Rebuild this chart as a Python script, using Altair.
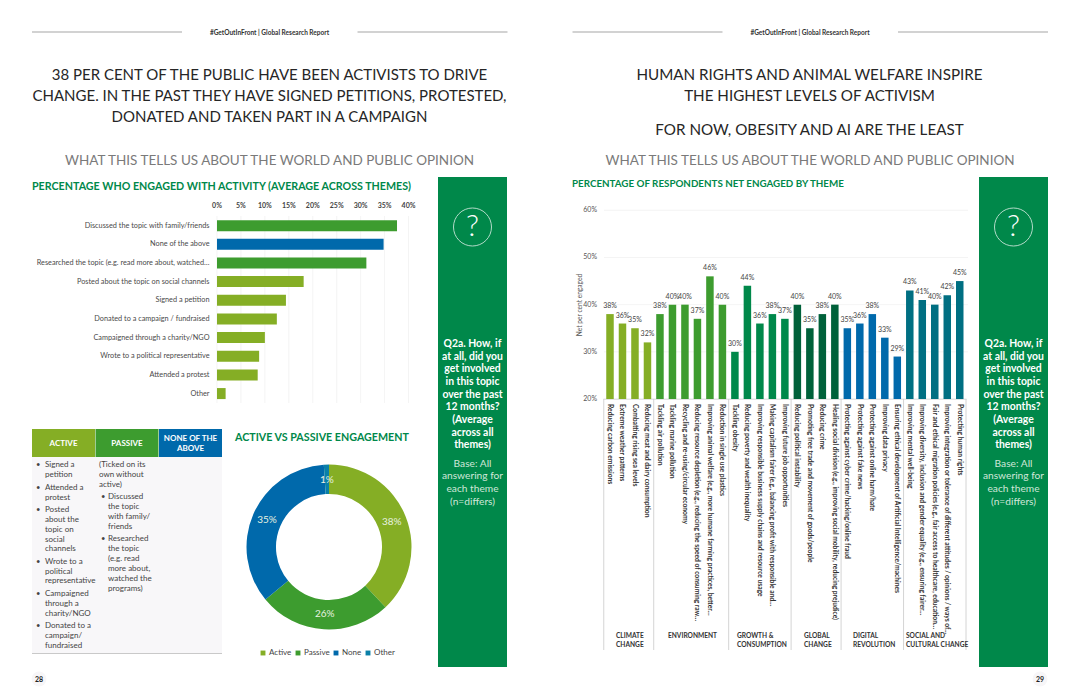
import altair as alt
import pandas as pd

FONT = "Lato"
ACTIVE = "#85AE25"
PASSIVE = "#3D9C2F"
NONE_C = "#0069AB"
OTHER_C = "#0A80A8"
GREEN = "#00884A"

# left bar chart
activities = ["Discussed the topic with family/friends", "None of the above",
              "Researched the topic (e.g. read more about, watched…",
              "Posted about the topic on social channels", "Signed a petition",
              "Donated to a campaign / fundraised", "Campaigned through a charity/NGO",
              "Wrote to a political representative", "Attended a protest", "Other"]
activity_values = [37.6, 34.8, 31.2, 18.1, 14.4, 12.5, 10.0, 8.8, 8.5, 1.8]
activity_kinds = ["Passive", "None", "Passive", "Active", "Active", "Active", "Active", "Active", "Active", "Active"]
pct_ticks = [0, 5, 10, 15, 20, 25, 30, 35, 40]

# donut
donut_labels = ["Active", "Passive", "None", "Other"]
donut_values = [38, 26, 35, 1]
donut_colors = [ACTIVE, PASSIVE, NONE_C, OTHER_C]

# right bar chart
theme_names = [
    "Reducing carbon emissions", "Extreme weather patterns", "Combatting rising sea levels",
    "Reducing meat and dairy consumption",
    "Tackling air pollution", "Tackling marine pollution", "Recycling and re-using/circular economy",
    "Reducing resource depletion (e.g., reducing the speed of consuming raw…",
    "Improving animal welfare (e.g., more humane farming practices, better…",
    "Reduction in single use plastics",
    "Tackling obesity", "Reducing poverty and wealth inequality",
    "Improving responsible business supply chains and resource usage",
    "Making capitalism fairer (e.g., balancing profit with responsible and…",
    "Improving future job opportunities",
    "Reducing political instability", "Promoting free trade and movement of goods/people", "Reducing crime",
    "Healing social division (e.g., improving social mobility, reducing prejudice)",
    "Protecting against cyber crime/hacking/online fraud", "Protecting against fake news",
    "Protecting against online harm/hate", "Improving data privacy",
    "Ensuring ethical development of Artificial Intelligence/machines",
    "Improving mental well-being", "Improving diversity, inclusion and gender equality (e.g., ensuring fairer…",
    "Fair and ethical migration policies (e.g., fair access to healthcare, education…",
    "Improving integration or tolerance of different attitudes / opinions / ways of…",
    "Protecting human rights"]
theme_values = [38, 36, 35, 32, 38, 40, 40, 37, 46, 40, 30, 44, 36, 38, 37, 40, 35, 38, 40,
                35, 36, 38, 33, 29, 43, 41, 40, 42, 45]
group_sizes = [4, 6, 5, 4, 5, 5]
group_colors = [ACTIVE, PASSIVE, "#00884A", "#00613A", NONE_C, "#006F82"]
y_ticks = [20, 30, 40, 50, 60]

side_q = ["Q2a. How, if", "at all, did you", "get involved", "in this topic", "over the past",
          "12 months?", "(Average", "across all", "themes)"]
side_b = ["Base: All", "answering for", "each theme", "(n=differs)"]
active_col = [("•", "Signed a", 465), ("", "petition", 475), ("•", "Attended a", 487.7), ("", "protest", 497.5),
              ("•", "Posted", 510), ("", "about the", 519.5), ("", "topic on", 529.5), ("", "social", 539.5),
              ("", "channels", 549), ("•", "Wrote to a", 561.7), ("", "political", 571.7), ("", "representative", 581),
              ("•", "Campaigned", 593.7), ("", "through a", 603.7), ("", "charity/NGO", 613.7),
              ("•", "Donated to a", 626), ("", "campaign/", 636), ("", "fundraised", 645.7)]
passive_col = [("•", "Discussed", 497.3), ("", "the topic", 507), ("", "with family/", 516.7), ("", "friends", 526.7),
               ("•", "Researched", 539), ("", "the topic", 549), ("", "(e.g. read", 559), ("", "more about,", 569),
               ("", "watched the", 578.7), ("", "programs)", 588.7)]

ONE = alt.Data(values=[{"a": 1}])
layers = []


def V(n):
    return alt.value(n - 8)


def T(s, x, y, size, color="#444444", bold=False, align="left", angle=None, weight=None):
    kw = dict(align=align, baseline="middle", fontSize=size, font=FONT,
              fontWeight=weight if weight else ("bold" if bold else "normal"))
    if angle is not None:
        kw["angle"] = angle
    layers.append(alt.Chart(ONE).mark_text(**kw).encode(x=V(x), y=V(y), text=alt.value(s), color=alt.value(color)))


def R(x0, x1, y0, y1, color):
    layers.append(alt.Chart(ONE).mark_rect().encode(x=V(x0), x2=V(x1), y=V(y0), y2=V(y1), color=alt.value(color)))


# page headers
for off in (0, 540.5):
    R(32 + off, 182 + off, 31.6, 32.4, "#a6a6a6")
    R(357.5 + off, 507.5 + off, 31.6, 32.4, "#a6a6a6")
    T("#GetOutInFront | Global Research Report", 269.5 + off, 32.5, 6.5, "#333333", True, "center")
    T("WHAT THIS TELLS US ABOUT THE WORLD AND PUBLIC OPINION", 269.5 + off, 161, 13.5, "#7a7a7a", False, "center")

for s, y in zip(["38 PER CENT OF THE PUBLIC HAVE BEEN ACTIVISTS TO DRIVE",
                 "CHANGE. IN THE PAST THEY HAVE SIGNED PETITIONS, PROTESTED,",
                 "DONATED AND TAKEN PART IN A CAMPAIGN"], [75, 96, 117.3]):
    T(s, 269.5, y, 15.0, "#262626", False, "center")
for s, y in zip(["HUMAN RIGHTS AND ANIMAL WELFARE INSPIRE", "THE HIGHEST LEVELS OF ACTIVISM",
                 "FOR NOW, OBESITY AND AI ARE THE LEAST"], [75, 96, 130]):
    T(s, 809.5, y, 15.2, "#262626", False, "center")

T("PERCENTAGE WHO ENGAGED WITH ACTIVITY (AVERAGE ACROSS THEMES)", 32, 186.5, 10.7, GREEN, True)
T("PERCENTAGE OF RESPONDENTS NET ENGAGED BY THEME", 572, 184, 9.8, GREEN, True)
T("ACTIVE VS PASSIVE ENGAGEMENT", 235, 437.5, 10.7, GREEN, True)

# sidebars
for x0, cx in ((438, 472.5), (979, 1013.5)):
    R(x0, x0 + 69, 177, 667, GREEN)
    layers.append(alt.Chart(ONE).mark_point(filled=False, size=1444, strokeWidth=1).encode(
        x=V(cx), y=V(227), color=alt.value("white")))
    T("?", cx, 227, 30, "white", False, "center", weight=300)
    for i, s in enumerate(side_q):
        T(s, cx, 344 + i * 12.65, 10.4, "white", True, "center")
    for i, s in enumerate(side_b):
        T(s, cx, 463.5 + i * 12.7, 10.2, "#cfe7d9", False, "center")

# page numbers
for cx, s in ((39, "28"), (1040, "29")):
    layers.append(alt.Chart(ONE).mark_point(filled=True, size=220, opacity=1).encode(
        x=V(cx), y=V(679), color=alt.value("#f7f6f8")))
    T(s, cx, 679.5, 7, "#222222", True, "center")

# left bar chart
xs_left = alt.Scale(domain=[0, 40], range=[217 - 8, 408.5 - 8], nice=False, zero=True)
ys_left = alt.Scale(domain=activities, range=[216.3 - 8, 402.9 - 8], paddingInner=0.41, paddingOuter=0.205)
grid_df = pd.DataFrame({"p": pct_ticks, "lab": [f"{p}%" for p in pct_ticks]})
layers.append(alt.Chart(grid_df).mark_rule(color="#efefef", strokeWidth=0.7).encode(
    x=alt.X("p:Q", scale=xs_left, axis=None), y=V(216), y2=V(403)))
layers.append(alt.Chart(grid_df).mark_text(fontSize=7, fontWeight="bold", font=FONT, color="#444444", baseline="middle").encode(
    x=alt.X("p:Q", scale=xs_left, axis=None), y=V(205.6), text="lab:N"))
left_df = pd.DataFrame({"a": activities, "v": activity_values, "k": activity_kinds})
layers.append(alt.Chart(left_df).mark_bar().encode(
    x=alt.X("v:Q", scale=xs_left, axis=None),
    y=alt.Y("a:N", scale=ys_left, axis=None),
    color=alt.Color("k:N", scale=alt.Scale(domain=["Active", "Passive", "None"], range=[ACTIVE, PASSIVE, NONE_C]), legend=None)))
layers.append(alt.Chart(left_df).mark_text(align="right", baseline="middle", fontSize=7.3, font=FONT, color="#4a4a4a").encode(
    x=V(209.5), y=alt.Y("a:N", scale=ys_left, axis=None), text="a:N"))

# table
R(32, 95, 429, 457, ACTIVE)
R(95.5, 158.5, 429, 457, PASSIVE)
R(159, 222, 429, 457, NONE_C)
R(32, 222, 457, 653, "#f8f7f9")
R(32, 222, 653, 654, "#c9c9c9")
T("ACTIVE", 63.5, 443.5, 8, "#ffffff", True, "center")
T("PASSIVE", 127, 443.5, 8, "#ffffff", True, "center")
T("NONE OF THE", 190.5, 438.5, 8, "#ffffff", True, "center")
T("ABOVE", 190.5, 449, 8, "#ffffff", True, "center")
for bullet, s, y in active_col:
    if bullet:
        T(bullet, 36, y, 7.6, "#444444")
    T(s, 45, y, 8, "#444444")
for s, y in zip(["(Ticked on its", "own without", "active)"], [465, 475, 484.7]):
    T(s, 99, y, 8, "#444444")
for bullet, s, y in passive_col:
    if bullet:
        T(bullet, 101, y, 7.6, "#444444")
    T(s, 108, y, 8, "#444444")

# donut
donut_df = pd.DataFrame({"n": donut_labels, "v": donut_values, "o": list(range(4)),
                         "lab": [f"{v}%" for v in donut_values]})
layers.append(alt.Chart(donut_df).mark_arc(outerRadius=82.5, innerRadius=53).encode(
    theta=alt.Theta("v:Q", stack=True),
    order=alt.Order("o:Q"),
    x=V(329), y=V(547),
    color=alt.Color("n:N", sort=donut_labels, scale=alt.Scale(domain=donut_labels, range=donut_colors),
                    legend=alt.Legend(orient="none", legendX=251, legendY=641, direction="horizontal", title=None,
                                      symbolType="square", symbolSize=24, symbolStrokeWidth=0, labelFontSize=8,
                                      labelFont=FONT, labelColor="#444444", columnPadding=2, labelOffset=2,
                                      values=donut_labels))))
layers.append(alt.Chart(donut_df).mark_text(radius=67.5, fontSize=10, font=FONT, color="#e8f2e0", baseline="middle").encode(
    theta=alt.Theta("v:Q", stack=True),
    order=alt.Order("o:Q"),
    x=V(329), y=V(547), text="lab:N"))

# right chart
themes_group = [g for g, n in enumerate(group_sizes) for _ in range(n)]
theme_df = pd.DataFrame({"t": theme_names, "v": theme_values, "g": themes_group,
                         "lab": [f"{v}%" for v in theme_values]})
xs_r = alt.Scale(domain=theme_names, range=[603.75 - 8, 966 - 8], paddingInner=0.4, paddingOuter=0.2)
ys_r = alt.Scale(domain=[20, 60], range=[399 - 8, 210.3 - 8], nice=False, zero=False)
gy_df = pd.DataFrame({"p": y_ticks, "lab": [f"{p}%" for p in y_ticks]})
layers.append(alt.Chart(gy_df[gy_df.p > 20]).mark_rule(color="#efefef", strokeWidth=0.7).encode(
    y=alt.Y("p:Q", scale=ys_r, axis=None), x=V(604), x2=V(968)))
layers.append(alt.Chart(gy_df).mark_text(align="right", baseline="middle", fontSize=7, font=FONT, color="#555555").encode(
    y=alt.Y("p:Q", scale=ys_r, axis=None), x=V(597), text="lab:N"))
T("Net per cent engaged", 579.5, 305, 6.6, "#555555", False, "center", 270)

# group frame
R(603.5, 966.5, 398.8, 399.6, "#c9c9c9")
start = 0
for n in [0] + group_sizes:
    start += n
    layers.append(alt.Chart(pd.DataFrame({"t": [theme_names[min(start, 28)]]})).mark_rule(
        color="#c9c9c9", strokeWidth=0.8).encode(
        x=alt.value(603.75 - 8 + start * 12.4914), y=V(399), y2=V(650)))

layers.append(alt.Chart(theme_df).mark_bar().encode(
    x=alt.X("t:N", scale=xs_r, axis=None),
    y=alt.Y("v:Q", scale=ys_r, axis=None), y2=alt.datum(20),
    color=alt.Color("g:O", scale=alt.Scale(domain=list(range(6)), range=group_colors), legend=None)))
layers.append(alt.Chart(theme_df).mark_text(dy=-8, fontSize=7, font=FONT, color="#444444").encode(
    x=alt.X("t:N", scale=xs_r, axis=None),
    y=alt.Y("v:Q", scale=ys_r, axis=None), text="lab:N"))
layers.append(alt.Chart(theme_df).mark_text(angle=90, align="left", baseline="middle", fontSize=6.7,
                                            font=FONT, color="#333333", fontWeight="bold").encode(
    x=alt.X("t:N", scale=xs_r, axis=None), y=V(404), text="t:N"))

for lines, x in ((["CLIMATE", "CHANGE"], 616), (["ENVIRONMENT"], 668), (["GROWTH &", "CONSUMPTION"], 737),
                 (["GLOBAL", "CHANGE"], 804), (["DIGITAL", "REVOLUTION"], 853),
                 (["SOCIAL AND", "CULTURAL CHANGE"], 906)):
    for i, s in enumerate(lines):
        T(s, x, 636 + i * 9, 6.6, "#333333", True)

chart = alt.layer(*layers).resolve_scale(x="independent", y="independent", color="independent", theta="independent").properties(
    width=1064, height=683, padding=0, autosize=alt.AutoSizeParams(type="none"), background="white"
).configure_view(stroke=None)

chart.save("out.html", embed_options={"renderer": "svg", "actions": False})
